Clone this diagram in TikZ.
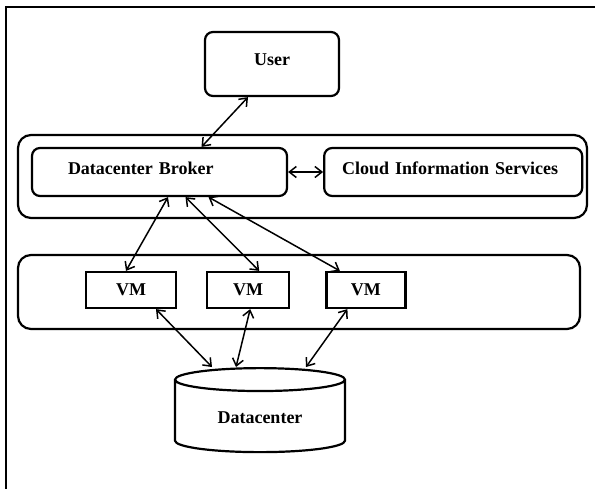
\documentclass[tikz,border=0pt]{standalone}
\usepackage{fontspec}
\setmainfont{Liberation Serif}
\usetikzlibrary{shapes,arrows.meta,positioning}

\begin{document}
\begin{tikzpicture}[x=1pt, y=1pt,
    font=\fontsize{18}{21}\selectfont\bfseries,
    >={Straight Barb[length=7pt,width=11pt]},
    box/.style={rectangle, draw, line width=2.2pt, inner sep=0pt},
    roundbox/.style={box, rounded corners=8pt, text depth=8pt},
    layer/.style={box, rounded corners=13pt},
    link/.style={<->, line width=1.5pt}]
    \useasboundingbox (0,0) rectangle (595,488);
    \clip (0,0) rectangle (595,488);
    % page frame, only top and left edges are on the page
    \draw[line width=2.8pt] (6,-10) rectangle (620,481);

    \node (user) [roundbox, minimum width=134pt, minimum height=64pt] at (272,424) {User};

    % broker layer
    \node (cloudlayer) [layer, minimum width=569pt, minimum height=83pt] at (302.5,311.5) {};
    \node (broker) [roundbox, text width=183pt, inner xsep=36pt, minimum height=48pt] at (159.5,316) {Datacenter Broker};
    \node (cis) [roundbox, text width=222pt, inner xsep=18pt, minimum height=48pt, right=35pt of broker] {Cloud Information Services};

    % vm layer
    \node (vmlayer) [layer, minimum width=562pt, minimum height=74pt] at (299,196) {};
    \node (vm1) [box, minimum width=90pt, minimum height=36pt] at (131,198) {VM};
    \node (vm2) [box, minimum width=82pt, minimum height=36pt, right=29pt of vm1] {VM};
    \node (vm3) [box, minimum width=79pt, minimum height=36pt, right=35pt of vm2] {VM};

    \node (dc) [cylinder, shape border rotate=90, draw, line width=2.2pt, aspect=0.25, minimum width=170pt, minimum height=84pt] at (260,70) {Datacenter};

    \draw [link] ([xshift=-24pt]user.south) -- ([xshift=42pt]broker.north);
    \draw [link] (broker.east) -- (broker.east -| cis.west);

    \draw [link] ([xshift=8.5pt]broker.south) -- ([xshift=-5pt]vm1.north);
    \draw [link] ([xshift=26pt]broker.south) -- ([xshift=11pt]vm2.north);
    \draw [link] ([xshift=49pt]broker.south) -- ([xshift=-26pt]vm3.north);

    \draw [link] ([xshift=25pt]vm1.south) -- ([xshift=-48pt]dc.north);
    \draw [link] ([xshift=2pt]vm2.south) -- ([xshift=-24pt]dc.north);
    \draw [link] ([xshift=-18.5pt]vm3.south) -- ([xshift=46pt]dc.north);
\end{tikzpicture}
\end{document}
